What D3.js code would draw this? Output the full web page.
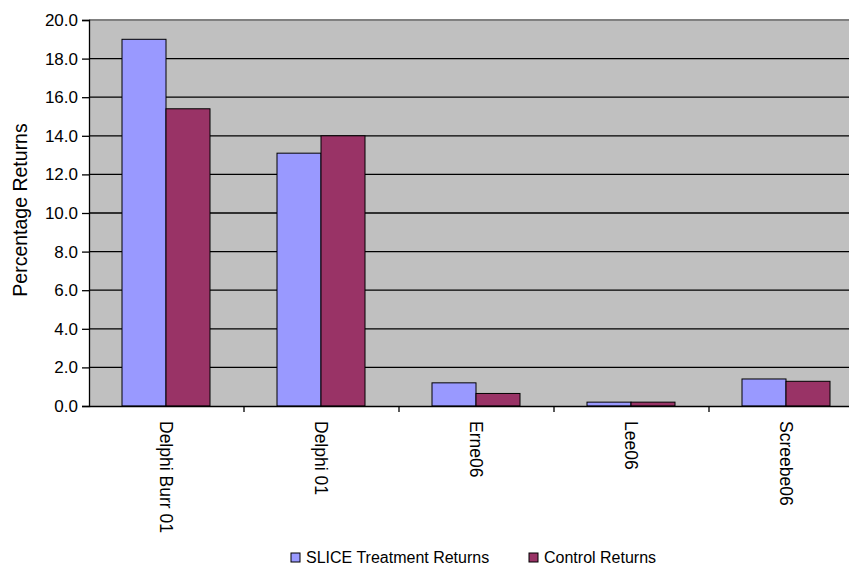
<!DOCTYPE html>
<html>
<head>
<meta charset="utf-8">
<script src="https://cdn.jsdelivr.net/npm/d3@7"></script>
<style>
  body { margin: 0; background: #fff; }
  svg { display: block; font-family: "Liberation Sans", Arial, sans-serif; }
</style>
</head>
<body>
<div id="chart"></div>
<script>
// chart data
var categories = ["Delphi Burr 01", "Delphi 01", "Erne06", "Lee06", "Screebe06"];
var seriesNames = ["SLICE Treatment Returns", "Control Returns"];
var treatmentValues = [19.0, 13.1, 1.2, 0.2, 1.4];
var controlValues = [15.4, 14.0, 0.65, 0.2, 1.28];
var yTicks = [0, 2, 4, 6, 8, 10, 12, 14, 16, 18, 20];
var colors = ["#9999ff", "#993366"];

var width = 849, height = 564;
var margin = {top: 20, left: 89, bottom: 158};
var plotW = 775, plotH = height - margin.top - margin.bottom;

var svg = d3.select("#chart").append("svg")
    .attr("width", width)
    .attr("height", height);

var g = svg.append("g")
    .attr("transform", "translate(" + margin.left + "," + margin.top + ")");

var x = d3.scaleBand().domain(categories).range([0, plotW]).paddingInner(0).paddingOuter(0);
var x1 = d3.scaleBand().domain(seriesNames).range([33, x.bandwidth() - 34]);
var y = d3.scaleLinear().domain([0, 20]).range([plotH, 0]);

// plot background
g.append("rect")
    .attr("width", plotW)
    .attr("height", plotH)
    .attr("fill", "#c0c0c0");

g.append("line")
    .attr("x1", 0).attr("x2", plotW)
    .attr("y1", 0).attr("y2", 0)
    .attr("stroke", "#808080")
    .attr("stroke-width", 2);

// gridlines
g.selectAll("line.grid")
    .data(yTicks.filter(function(d) { return d > 0 && d < 20; }))
    .enter().append("line")
    .attr("class", "grid")
    .attr("x1", 0).attr("x2", plotW)
    .attr("y1", function(d) { return y(d); })
    .attr("y2", function(d) { return y(d); })
    .attr("stroke", "#000")
    .attr("stroke-width", 1.3);

// bars
var rows = categories.map(function(c, i) {
    return {cat: c, vals: [
        {name: seriesNames[0], v: treatmentValues[i], c: colors[0]},
        {name: seriesNames[1], v: controlValues[i], c: colors[1]}
    ]};
});

var groups = g.selectAll("g.cat")
    .data(rows)
    .enter().append("g")
    .attr("class", "cat")
    .attr("transform", function(d) { return "translate(" + x(d.cat) + ",0)"; });

groups.selectAll("rect")
    .data(function(d) { return d.vals; })
    .enter().append("rect")
    .attr("x", function(d) { return x1(d.name); })
    .attr("width", x1.bandwidth())
    .attr("y", function(d) { return y(d.v); })
    .attr("height", function(d) { return plotH - y(d.v); })
    .attr("fill", function(d) { return d.c; })
    .attr("stroke", "#000")
    .attr("stroke-width", 1);

// y axis
var yAxis = g.append("g")
    .call(d3.axisLeft(y).tickValues(yTicks).tickSize(7).tickFormat(d3.format(".1f")));
yAxis.select(".domain").attr("stroke", "#000").attr("stroke-width", 1.3);
yAxis.selectAll(".tick line").attr("stroke", "#000").attr("stroke-width", 1.3);
yAxis.selectAll(".tick text")
    .attr("x", -11)
    .attr("font-size", 17)
    .attr("font-family", "Liberation Sans, Arial, sans-serif")
    .attr("fill", "#000");

// x axis
var xAxis = g.append("g")
    .attr("transform", "translate(0," + plotH + ")")
    .call(d3.axisBottom(x).tickSize(0).tickSizeOuter(0));
xAxis.select(".domain").attr("stroke", "#000").attr("stroke-width", 1.3);
xAxis.selectAll(".tick text")
    .attr("font-size", 17.5)
    .attr("font-family", "Liberation Sans, Arial, sans-serif")
    .attr("fill", "#000")
    .attr("text-anchor", "start")
    .attr("dy", "0.35em")
    .attr("transform", "translate(0,15) rotate(90)")
    .attr("x", 0)
    .attr("y", 0);

// category separator ticks
g.selectAll("line.sep")
    .data(categories.slice(1))
    .enter().append("line")
    .attr("class", "sep")
    .attr("x1", function(d) { return x(d); })
    .attr("x2", function(d) { return x(d); })
    .attr("y1", plotH)
    .attr("y2", plotH + 6)
    .attr("stroke", "#000")
    .attr("stroke-width", 1.3);

// y axis title
svg.append("text")
    .attr("transform", "translate(27," + (margin.top + plotH / 2 - 3) + ") rotate(-90)")
    .attr("text-anchor", "middle")
    .attr("font-size", 19.5)
    .text("Percentage Returns");

// legend
var legendItems = [{name: seriesNames[0], c: colors[0], x: 291}, {name: seriesNames[1], c: colors[1], x: 529}];
var legend = svg.selectAll("g.legend")
    .data(legendItems)
    .enter().append("g")
    .attr("class", "legend")
    .attr("transform", function(d) { return "translate(" + d.x + ",553)"; });

legend.append("rect")
    .attr("width", 9).attr("height", 9)
    .attr("fill", function(d) { return d.c; })
    .attr("stroke", "#000");

legend.append("text")
    .attr("x", 15)
    .attr("y", 9.5)
    .attr("font-size", 16)
    .text(function(d) { return d.name; });
</script>
</body>
</html>
